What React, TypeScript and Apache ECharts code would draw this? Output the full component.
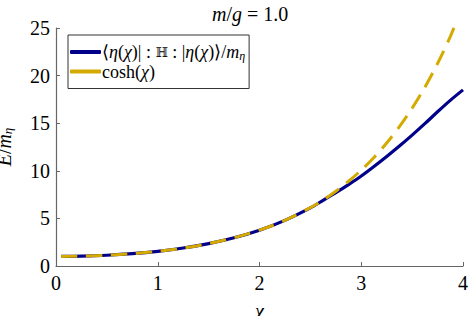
import React, { useEffect, useRef } from "react";
import * as echarts from "echarts";

const chiValues = [0.05, 0.25, 0.5, 0.75, 1, 1.25, 1.5, 1.75, 2, 2.25, 2.5, 2.625, 2.75, 2.875, 3, 3.125, 3.25, 3.375, 3.5, 3.625, 3.75, 3.875, 4];
const energyValues = [1.001, 1.031, 1.128, 1.295, 1.543, 1.888, 2.352, 2.964, 3.762, 4.79, 6.1, 6.9, 7.7, 8.55, 9.45, 10.45, 11.5, 12.6, 13.75, 14.95, 16.2, 17.4, 18.5];
const coshValues = [1.001, 1.031, 1.128, 1.295, 1.543, 1.888, 2.352, 2.964, 3.762, 4.797, 6.132, 6.93, 7.853, 8.9, 10.068, 11.4, 12.915, 14.63, 16.573, 18.77, 21.272, 24.1, 27.308];
const xTicks = [0, 1, 2, 3, 4];
const yTicks = [0, 5, 10, 15, 20, 25];

const SERIES_ENERGY = "energy";
const SERIES_COSH = "cosh";

const FONT = "Liberation Serif";
const FONT_SYM = "DejaVu Serif";
const BLUE = "#00008b";
const YELLOW = "#d4aa00";
const AXIS = "#666666";

export default function App() {
  const ref = useRef<HTMLDivElement>(null);
  useEffect(() => {
    if (!ref.current) return;
    const chart = echarts.init(ref.current, null, { renderer: "svg" });
    const base = { fontFamily: FONT, fontSize: 20, color: "#000" };
    const it = { ...base, fontStyle: "italic" };
    const sub = { fontFamily: FONT, fontSize: 13, fontStyle: "italic", color: "#000", padding: [8, 0, 0, 0] };
    chart.setOption({
      animation: false,
      backgroundColor: "#fff",
      textStyle: { fontFamily: FONT },
      graphic: [
        {
          type: "text",
          left: 212,
          top: 4,
          style: {
            text: "{i|m}{r|/}{i|g}{r| = 1.0}",
            fontFamily: FONT,
            fontSize: 20,
            fill: "#000",
            rich: { i: it, r: base },
          },
        },
      ],
      grid: { left: 56, right: 10, top: 28, bottom: 50, containLabel: false, outerBoundsMode: "none" },
      legend: {
        left: 68,
        top: 35,
        orient: "vertical",
        backgroundColor: "#fff",
        borderColor: "#333",
        borderWidth: 1,
        borderRadius: 0,
        padding: [8, 4, 8, 2],
        itemGap: 1,
        itemWidth: 31,
        itemHeight: 4,
        icon: "roundRect",
        data: [
          { name: SERIES_ENERGY, itemStyle: { color: BLUE } },
          { name: SERIES_COSH, itemStyle: { color: YELLOW } },
        ],
        formatter: (name: string) =>
          name === SERIES_ENERGY
            ? "{r|⟨}{i|η}{r|(}{i|χ}{r|)| : }{h|ℍ}{r| : |}{i|η}{r|(}{i|χ}{r|)⟩/}{i|m}{s|η}"
            : "{r|cosh(}{i|χ}{r|)}",
        textStyle: {
          fontFamily: FONT_SYM,
          fontSize: 18,
          color: "#000",
          padding: [0, 0, 0, -4],
          rich: {
            r: { ...base, fontSize: 18, lineHeight: 19 },
            i: { ...it, fontSize: 18, lineHeight: 19 },
            h: { fontFamily: FONT_SYM, fontSize: 13, fontStyle: "normal", fontWeight: "normal", color: "#000", lineHeight: 19 },
            s: { ...sub, fontSize: 12, padding: [7, 0, 0, 0] },
          },
        },
      },
      xAxis: {
        type: "value",
        min: 0,
        max: 4,
        interval: 1,
        name: "{i|χ}",
        nameLocation: "middle",
        nameGap: 35,
        nameTextStyle: { fontFamily: FONT, fontSize: 20, rich: { i: it } },
        axisLine: { show: true, lineStyle: { color: AXIS, width: 1.2 } },
        axisTick: { show: true, inside: true, length: 4, lineStyle: { color: AXIS } },
        splitLine: { show: false },
        axisLabel: {
          fontFamily: FONT,
          fontSize: 20,
          color: "#000",
          margin: 7,
          formatter: (v: number) => (xTicks.includes(v) ? String(v) : ""),
        },
      },
      yAxis: {
        type: "value",
        min: 0,
        max: 25,
        interval: 5,
        name: "{i|E}{r|/}{i|m}{s|η}",
        nameLocation: "middle",
        nameRotate: 90,
        nameGap: 42,
        nameTextStyle: { fontFamily: FONT, fontSize: 20, rich: { i: it, r: base, s: sub } },
        axisLine: { show: true, lineStyle: { color: AXIS, width: 1.2 } },
        axisTick: { show: true, inside: true, length: 4, lineStyle: { color: AXIS } },
        splitLine: { show: false },
        axisLabel: {
          fontFamily: FONT,
          fontSize: 20,
          color: "#000",
          margin: 6,
          formatter: (v: number) => (yTicks.includes(v) ? String(v) : ""),
        },
      },
      series: [
        {
          name: SERIES_ENERGY,
          type: "line",
          smooth: 0.3,
          showSymbol: false,
          data: chiValues.map((x, i) => [x, energyValues[i]]),
          lineStyle: { color: BLUE, width: 3.2 },
          itemStyle: { color: BLUE },
        },
        {
          name: SERIES_COSH,
          type: "line",
          smooth: 0.3,
          showSymbol: false,
          data: chiValues.map((x, i) => [x, coshValues[i]]),
          lineStyle: { color: YELLOW, width: 3, type: [16, 9] },
          itemStyle: { color: YELLOW },
        },
      ],
    });
    return () => chart.dispose();
  }, []);
  return <div ref={ref} style={{ width: 473, height: 316, position: "absolute", left: 0, top: 0 }} />;
}
